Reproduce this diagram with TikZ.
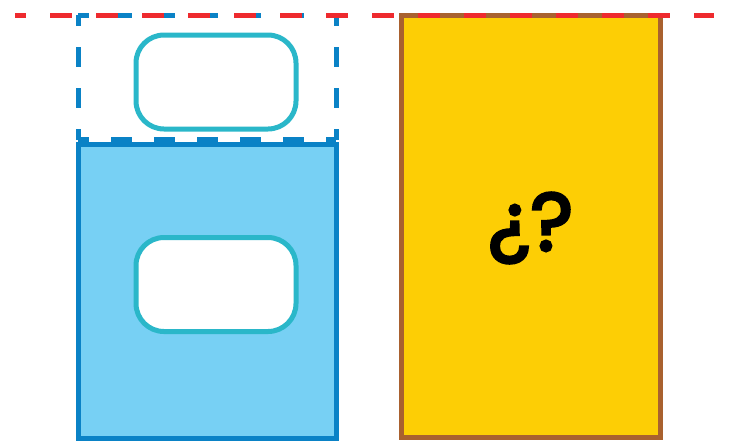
\documentclass[tikz,border=0pt]{standalone}
\usepackage{fontspec}
\usepackage{tikz}
\usetikzlibrary{positioning}
\newfontfamily\queryfont{Poppins}[FakeBold=3.5]
\definecolor{limitred}{HTML}{EE2A2E}
\definecolor{cupblue}{HTML}{0A82C6}
\definecolor{cupfill}{HTML}{77D0F4}
\definecolor{slotteal}{HTML}{2AB7C9}
\definecolor{boxbrown}{HTML}{A9612F}
\definecolor{boxyellow}{HTML}{FDCE05}

\begin{document}
\begin{tikzpicture}[
      x=1pt, y=-1pt,
      limit/.style={draw=limitred, line width=5pt, dash pattern=on 22pt off 24pt, dash phase=11pt},
      ghost/.style={draw=cupblue, line width=5pt, dash pattern=on 20pt off 21pt, dash phase=9pt},
      ghostfloor/.style={draw=cupblue, line width=5pt, dash pattern=on 21pt off 22pt, dash phase=10pt},
      cup/.style={draw=cupblue, fill=cupfill, line width=5pt},
      slot/.style={rectangle, rounded corners=28pt, draw=slotteal, fill=white,
                   line width=5pt, minimum width=160pt, minimum height=94pt},
      mystery/.style={draw=boxbrown, fill=boxyellow, line width=5pt},
      query/.style={font=\queryfont\fontsize{82}{82}\selectfont, inner sep=0pt}
    ]
      \useasboundingbox (0,0) rectangle (735,440);
      % left column
      \coordinate (ghostNW) at (78,15);
      \coordinate (ghostNE) at (336,15);
      \coordinate (ghostSW) at (78,139.5);
      \coordinate (ghostSE) at (336,139.5);
      \draw[ghost] (ghostNW) -- (ghostSW);
      \draw[ghost] (ghostNE) -- (ghostSE);
      \draw[ghostfloor] (ghostNW) -- (ghostNE);
      \draw[ghostfloor] (ghostSW) -- (ghostSE);
      \draw[cup] (78,144.5) rectangle (336,438);
      \node[slot] (slotTop) at (216,82) {};
      \node[slot] (slotLow) at (216,284.5) {};
      % right column
      \draw[mystery] (401,15) rectangle (660,437);
      \node[query] (query) at (530.5,228) {¿?};
      % limit line
      \coordinate (limitL) at (15,15);
      \coordinate (limitR) at (714,15);
      \draw[limit] (limitL) -- (limitR);
    \end{tikzpicture}
\end{document}
